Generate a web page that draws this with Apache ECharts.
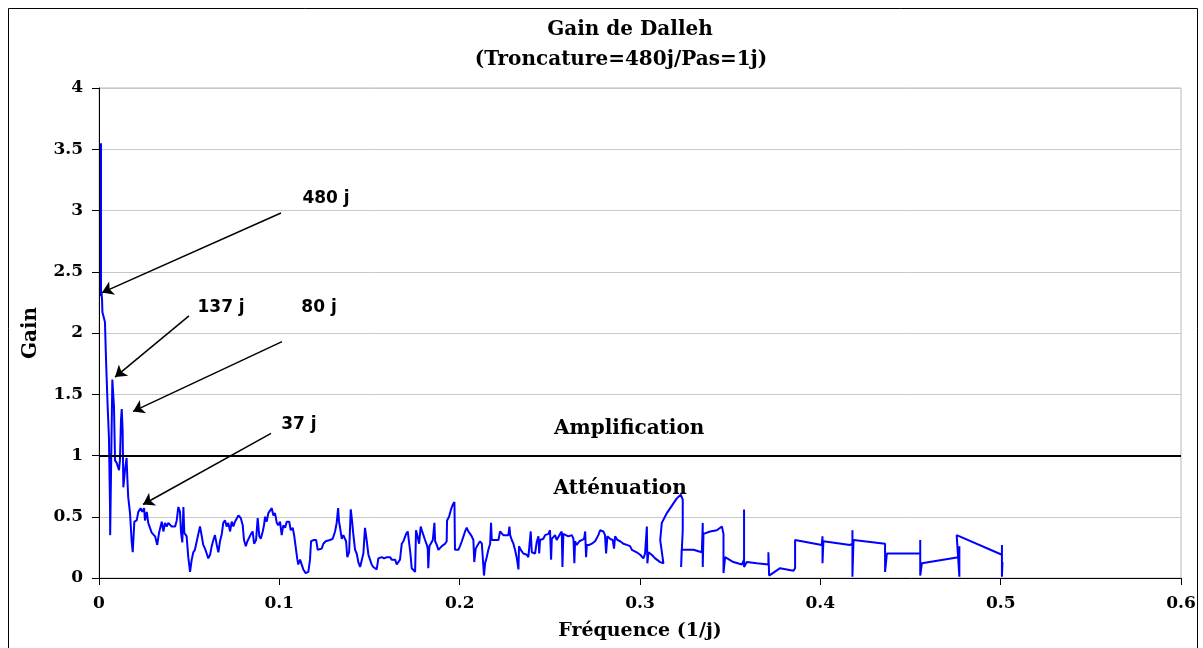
<!DOCTYPE html>
<html>
<head>
<meta charset="utf-8">
<script src="https://cdn.jsdelivr.net/npm/echarts@6/dist/echarts.min.js"></script>
<style>
  html, body { margin: 0; padding: 0; background: #fff; }
  #main { width: 1203px; height: 648px; }
</style>
</head>
<body>
<div id="main"></div>
<script>
// frequency (1/j) and gain, in drawing order
const freq = [
  0.0011, 0.0011, 0.0014, 0.0017, 0.0019, 0.0033, 0.0039, 0.0048, 0.0055, 0.0061, 0.0062, 0.0068, 0.0074, 0.0083, 0.0089, 0.0098,
  0.0111, 0.0116, 0.0122, 0.0126, 0.0131, 0.0135, 0.0144, 0.0153, 0.0157, 0.0162, 0.0172, 0.0181, 0.0187, 0.0196, 0.0209, 0.0218,
  0.0231, 0.0240, 0.0250, 0.0255, 0.0265, 0.0273, 0.0292, 0.0311, 0.0323, 0.0333, 0.0348, 0.0357, 0.0366, 0.0375, 0.0384, 0.0403,
  0.0422, 0.0431, 0.0440, 0.0449, 0.0455, 0.0462, 0.0468, 0.0473, 0.0486, 0.0495, 0.0505, 0.0514, 0.0523, 0.0532, 0.0542, 0.0551,
  0.0560, 0.0570, 0.0578, 0.0588, 0.0597, 0.0606, 0.0616, 0.0625, 0.0634, 0.0643, 0.0653, 0.0662, 0.0671, 0.0681, 0.0689, 0.0699,
  0.0708, 0.0717, 0.0727, 0.0736, 0.0745, 0.0754, 0.0773, 0.0786, 0.0797, 0.0804, 0.0814, 0.0823, 0.0834, 0.0843, 0.0852, 0.0860,
  0.0871, 0.0880, 0.0889, 0.0897, 0.0908, 0.0915, 0.0921, 0.0930, 0.0939, 0.0948, 0.0958, 0.0967, 0.0976, 0.0986, 0.0994, 0.1004,
  0.1013, 0.1022, 0.1032, 0.1041, 0.1055, 0.1063, 0.1074, 0.1082, 0.1093, 0.1100, 0.1105, 0.1115, 0.1124, 0.1133, 0.1146, 0.1161,
  0.1170, 0.1176, 0.1189, 0.1204, 0.1213, 0.1222, 0.1235, 0.1244, 0.1257, 0.1266, 0.1281, 0.1296, 0.1309, 0.1318, 0.1326, 0.1331,
  0.1337, 0.1346, 0.1355, 0.1364, 0.1370, 0.1377, 0.1387, 0.1396, 0.1403, 0.1410, 0.1420, 0.1429, 0.1438, 0.1448, 0.1457, 0.1466,
  0.1475, 0.1485, 0.1494, 0.1503, 0.1512, 0.1521, 0.1531, 0.1540, 0.1549, 0.1558, 0.1568, 0.1581, 0.1596, 0.1614, 0.1623, 0.1642,
  0.1651, 0.1660, 0.1669, 0.1679, 0.1688, 0.1697, 0.1703, 0.1712, 0.1721, 0.1727, 0.1734, 0.1743, 0.1753, 0.1758, 0.1765, 0.1775,
  0.1784, 0.1790, 0.1799, 0.1808, 0.1818, 0.1823, 0.1826, 0.1832, 0.1841, 0.1851, 0.1860, 0.1864, 0.1873, 0.1882, 0.1891, 0.1901,
  0.1910, 0.1919, 0.1928, 0.1930, 0.1941, 0.1952, 0.1962, 0.1971, 0.1974, 0.1984, 0.1993, 0.2002, 0.2012, 0.2021, 0.2030, 0.2039,
  0.2048, 0.2058, 0.2067, 0.2076, 0.2081, 0.2089, 0.2100, 0.2113, 0.2123, 0.2131, 0.2135, 0.2141, 0.2150, 0.2159, 0.2169, 0.2174,
  0.2178, 0.2196, 0.2215, 0.2224, 0.2233, 0.2242, 0.2252, 0.2270, 0.2276, 0.2280, 0.2289, 0.2298, 0.2307, 0.2317, 0.2326, 0.2329,
  0.2339, 0.2353, 0.2372, 0.2381, 0.2390, 0.2394, 0.2400, 0.2409, 0.2418, 0.2428, 0.2437, 0.2441, 0.2446, 0.2464, 0.2474, 0.2483,
  0.2492, 0.2501, 0.2507, 0.2511, 0.2529, 0.2538, 0.2557, 0.2566, 0.2570, 0.2575, 0.2585, 0.2603, 0.2622, 0.2631, 0.2636, 0.2640,
  0.2649, 0.2664, 0.2677, 0.2690, 0.2696, 0.2701, 0.2705, 0.2719, 0.2733, 0.2751, 0.2769, 0.2779, 0.2788, 0.2797, 0.2806, 0.2812,
  0.2819, 0.2834, 0.2849, 0.2856, 0.2862, 0.2875, 0.2890, 0.2908, 0.2927, 0.2945, 0.2955, 0.2963, 0.2982, 0.3001, 0.3019, 0.3028,
  0.3038, 0.3041, 0.3047, 0.3065, 0.3084, 0.3112, 0.3130, 0.3139, 0.3112, 0.3121, 0.3149, 0.3204, 0.3226, 0.3237, 0.3237, 0.3231,
  0.3228, 0.3231, 0.3260, 0.3296, 0.3343, 0.3348, 0.3348, 0.3352, 0.3389, 0.3426, 0.3454, 0.3463, 0.3463, 0.3472, 0.3518, 0.3565,
  0.3577, 0.3577, 0.3577, 0.3592, 0.3648, 0.3712, 0.3712, 0.3716, 0.3777, 0.3851, 0.3860, 0.3860, 0.3870, 0.4008, 0.4012, 0.4012,
  0.4017, 0.4165, 0.4178, 0.4178, 0.4178, 0.4184, 0.4359, 0.4359, 0.4369, 0.4554, 0.4554, 0.4554, 0.4563, 0.4766, 0.4771, 0.4771,
  0.4756, 0.5007, 0.5007, 0.5007, 0.5010
];
const gain = [
  3.55, 2.30, 2.33, 2.27, 2.17, 2.09, 1.78, 1.40, 1.15, 0.60, 0.35, 1.00, 1.62, 1.40, 0.96, 0.94,
  0.88, 0.96, 1.29, 1.38, 1.21, 0.74, 0.88, 0.98, 0.82, 0.66, 0.53, 0.30, 0.21, 0.46, 0.47, 0.54,
  0.57, 0.54, 0.57, 0.47, 0.54, 0.45, 0.37, 0.34, 0.27, 0.37, 0.46, 0.38, 0.45, 0.42, 0.45, 0.42,
  0.42, 0.47, 0.58, 0.54, 0.37, 0.29, 0.58, 0.37, 0.34, 0.17, 0.05, 0.15, 0.21, 0.23, 0.30, 0.36,
  0.42, 0.34, 0.27, 0.24, 0.20, 0.16, 0.19, 0.26, 0.31, 0.35, 0.27, 0.21, 0.30, 0.36, 0.45, 0.47,
  0.42, 0.45, 0.38, 0.46, 0.42, 0.46, 0.51, 0.49, 0.43, 0.31, 0.26, 0.30, 0.31, 0.36, 0.38, 0.28,
  0.31, 0.49, 0.34, 0.32, 0.38, 0.43, 0.50, 0.46, 0.53, 0.54, 0.57, 0.51, 0.53, 0.45, 0.43, 0.46,
  0.35, 0.43, 0.41, 0.46, 0.46, 0.39, 0.41, 0.35, 0.34, 0.15, 0.11, 0.15, 0.16, 0.07, 0.04, 0.05,
  0.15, 0.30, 0.31, 0.31, 0.23, 0.23, 0.24, 0.28, 0.30, 0.31, 0.31, 0.32, 0.38, 0.45, 0.57, 0.46,
  0.41, 0.32, 0.35, 0.36, 0.30, 0.17, 0.21, 0.56, 0.47, 0.36, 0.23, 0.20, 0.13, 0.09, 0.08, 0.20,
  0.41, 0.30, 0.19, 0.15, 0.11, 0.09, 0.08, 0.07, 0.16, 0.16, 0.17, 0.16, 0.17, 0.17, 0.15, 0.15,
  0.11, 0.12, 0.15, 0.28, 0.30, 0.30, 0.36, 0.38, 0.38, 0.20, 0.08, 0.07, 0.05, 0.39, 0.35, 0.28,
  0.42, 0.39, 0.35, 0.31, 0.27, 0.24, 0.08, 0.26, 0.27, 0.31, 0.45, 0.30, 0.27, 0.23, 0.24, 0.26,
  0.27, 0.28, 0.30, 0.47, 0.50, 0.56, 0.60, 0.62, 0.23, 0.22, 0.23, 0.26, 0.30, 0.34, 0.38, 0.41,
  0.38, 0.36, 0.34, 0.31, 0.13, 0.24, 0.27, 0.30, 0.28, 0.27, 0.02, 0.12, 0.17, 0.23, 0.28, 0.45,
  0.31, 0.31, 0.31, 0.38, 0.39, 0.35, 0.35, 0.35, 0.42, 0.35, 0.31, 0.28, 0.23, 0.16, 0.07, 0.26,
  0.23, 0.20, 0.19, 0.17, 0.16, 0.38, 0.21, 0.21, 0.20, 0.30, 0.34, 0.20, 0.31, 0.32, 0.35, 0.34,
  0.36, 0.39, 0.15, 0.32, 0.35, 0.31, 0.36, 0.38, 0.09, 0.36, 0.35, 0.34, 0.35, 0.32, 0.12, 0.30,
  0.27, 0.30, 0.31, 0.32, 0.38, 0.17, 0.27, 0.27, 0.28, 0.30, 0.35, 0.39, 0.39, 0.38, 0.35, 0.20,
  0.34, 0.32, 0.31, 0.24, 0.34, 0.31, 0.30, 0.28, 0.27, 0.26, 0.23, 0.24, 0.21, 0.19, 0.16, 0.20,
  0.42, 0.12, 0.21, 0.19, 0.16, 0.13, 0.12, 0.12, 0.31, 0.45, 0.53, 0.65, 0.68, 0.64, 0.39, 0.20,
  0.09, 0.23, 0.23, 0.23, 0.21, 0.45, 0.09, 0.36, 0.38, 0.39, 0.42, 0.36, 0.04, 0.17, 0.13, 0.11,
  0.15, 0.56, 0.09, 0.13, 0.12, 0.11, 0.21, 0.02, 0.08, 0.06, 0.08, 0.31, 0.30, 0.27, 0.34, 0.12,
  0.30, 0.27, 0.28, 0.39, 0.01, 0.31, 0.28, 0.05, 0.20, 0.20, 0.31, 0.02, 0.12, 0.17, 0.26, 0.01,
  0.35, 0.19, 0.27, 0.01, 0.13
];

// annotation arrows: tail (near the label) -> head (on the curve)
const periodLabels = ['480 j', '137 j', '80 j', '37 j'];
const labelPos = [[0.1259, 3.10], [0.0677, 2.21], [0.1220, 2.21], [0.1109, 1.25]];
const arrowTails = [[0.1009, 2.98], [0.0499, 2.14], [0.1015, 1.93], [0.0954, 1.18]];
const arrowHeads = [[0.0017, 2.33], [0.0089, 1.64], [0.0189, 1.36], [0.0244, 0.60]];

const zoneLabels = ['Amplification', 'Atténuation'];
const zonePos = [[0.294, 1.22], [0.289, 0.73]];

const serif = 'DejaVu Serif';
const sans = 'DejaVu Sans';

const curve = freq.map((f, i) => [f, gain[i]]);

const frame = [
  {
    type: 'rect', silent: true,
    shape: { x: 8.5, y: 8.5, width: 1189, height: 700 },
    style: { fill: 'none', stroke: '#000', lineWidth: 1 }
  },
  {
    type: 'text', x: 630, y: 30,
    style: { text: 'Gain de Dalleh', align: 'center', verticalAlign: 'middle',
             font: 'bold 20px "' + serif + '"', fill: '#000' }
  },
  {
    type: 'text', x: 621, y: 60,
    style: { text: '(Troncature=480j/Pas=1j)', align: 'center', verticalAlign: 'middle',
             font: 'bold 20px "' + serif + '"', fill: '#000' }
  }
];

const chart = echarts.init(document.getElementById('main'));
chart.setOption({
  animation: false,
  backgroundColor: '#fff',
  graphic: frame,
  grid: {
    left: 99, right: 22, top: 88, bottom: 70,
    show: true, borderColor: '#b8b8b8', borderWidth: 1, backgroundColor: '#fff'
  },
  xAxis: {
    type: 'value', min: 0, max: 0.6, interval: 0.1,
    name: 'Fréquence (1/j)', nameLocation: 'middle', nameGap: 44,
    nameTextStyle: { fontFamily: serif, fontWeight: 'bold', fontSize: 19, color: '#000' },
    axisLine: { show: true, onZero: false, lineStyle: { color: '#000', width: 1 } },
    axisTick: { show: true, inside: false, length: 7, lineStyle: { color: '#000' } },
    axisLabel: { margin: 17, fontFamily: serif, fontWeight: 'bold', fontSize: 17, color: '#000' },
    splitLine: { show: false }
  },
  yAxis: {
    type: 'value', min: 0, max: 4, interval: 0.5,
    name: 'Gain', nameLocation: 'middle', nameGap: 58, nameRotate: 90,
    nameTextStyle: { fontFamily: serif, fontWeight: 'bold', fontSize: 20, color: '#000' },
    axisLine: { show: true, onZero: false, lineStyle: { color: '#000', width: 1 } },
    axisTick: { show: true, inside: false, length: 7, lineStyle: { color: '#000' } },
    axisLabel: { margin: 16, fontFamily: serif, fontWeight: 'bold', fontSize: 17, color: '#000' },
    splitLine: { show: true, lineStyle: { color: '#c8c8c8', width: 1 } }
  },
  series: [
    {
      type: 'line',
      data: curve,
      showSymbol: false,
      lineStyle: { color: '#0000ff', width: 2 },
      itemStyle: { color: '#0000ff' },
      z: 3,
      markLine: {
        silent: true, symbol: 'none', animation: false,
        label: { show: false },
        lineStyle: { color: '#000', width: 2, type: 'solid' },
        data: [{ yAxis: 1 }]
      }
    },
    {
      type: 'line',
      data: [[0, -1]],
      showSymbol: false,
      lineStyle: { width: 0 },
      itemStyle: { color: '#000' },
      z: 4,
      markLine: {
        silent: true, animation: false,
        symbol: ['none', 'arrow'], symbolSize: 11,
        label: { show: false },
        itemStyle: { color: '#000' },
        lineStyle: { color: '#000', width: 1.5, type: 'solid' },
        data: arrowTails.map((t, i) => [
          { coord: t, symbol: 'none' },
          { coord: arrowHeads[i], symbol: 'arrow', symbolSize: 11 }
        ])
      }
    }
  ]
});

// in-plot texts, placed through the grid's own scales
const notes = [];
periodLabels.forEach((n, i) => {
  const p = chart.convertToPixel('grid', labelPos[i]);
  notes.push({
    type: 'text', x: p[0], y: p[1], z: 10,
    style: { text: n, align: 'center', verticalAlign: 'middle',
             font: 'bold 17px "' + sans + '"', fill: '#000' }
  });
});
zoneLabels.forEach((n, i) => {
  const p = chart.convertToPixel('grid', zonePos[i]);
  notes.push({
    type: 'text', x: p[0], y: p[1], z: 10,
    style: { text: n, align: 'center', verticalAlign: 'middle',
             font: 'bold 20px "' + serif + '"', fill: '#000' }
  });
});
chart.setOption({ graphic: frame.concat(notes) });
</script>
</body>
</html>
